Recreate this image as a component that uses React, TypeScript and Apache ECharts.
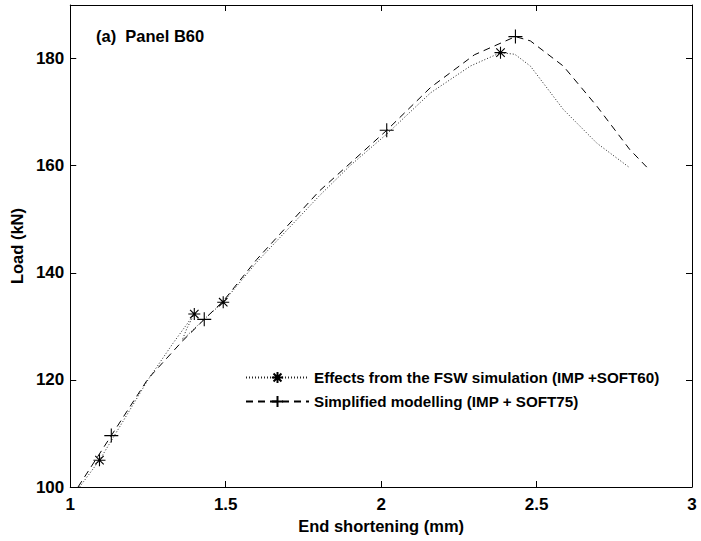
import React, { useEffect, useRef } from "react";
import * as echarts from "echarts";

const seriesNames = [
  "Effects from the FSW simulation (IMP +SOFT60)",
  "Simplified modelling (IMP + SOFT75)",
];

// [end shortening (mm), load (kN)]
const fswCurve: number[][] = [
  [1.03, 100], [1.094, 105.0], [1.17, 112.3], [1.25, 120.0], [1.33, 126.8],
  [1.399, 132.3], [1.375, 129.6], [1.36, 127.4], [1.43, 131.3], [1.492, 134.5],
  [1.6, 142.0], [1.8, 154.3], [1.9, 160.0], [2.018, 165.9], [2.159, 173.6],
  [2.287, 178.6], [2.384, 181.1], [2.43, 180.8], [2.48, 178.6], [2.586, 170.5],
  [2.694, 164.2], [2.8, 159.6],
];
const fswMarkers: number[][] = [
  [1.094, 105.0], [1.399, 132.3], [1.492, 134.5], [2.384, 181.1],
];

const simpCurve: number[][] = [
  [1.025, 100], [1.132, 109.6], [1.25, 120.2], [1.36, 127.2], [1.431, 131.3],
  [1.492, 134.7], [1.6, 142.5], [1.8, 155.2], [2.018, 166.6], [2.159, 174.6],
  [2.3, 180.7], [2.432, 184.1], [2.48, 183.3], [2.586, 178.6], [2.694, 171.1],
  [2.8, 163.0], [2.865, 159.1],
];
const simpMarkers: number[][] = [
  [1.132, 109.6], [1.431, 131.3], [2.018, 166.6], [2.432, 184.1],
];

const xTicks = [1, 1.5, 2, 2.5, 3];
const yTicks = [100, 120, 140, 160, 180];

const FONT = '"Liberation Sans", Arial, Helvetica, sans-serif';
const ASTERISK = "path://M0,-10L0,10M-10,0L10,0M-7.07,-7.07L7.07,7.07M-7.07,7.07L7.07,-7.07";
const PLUS = "path://M0,-10L0,10M-10,0L10,0";

function withMarkers(curve: number[][], markers: number[][]) {
  return curve.map((p) => {
    const isMark = markers.some((m) => m[0] === p[0] && m[1] === p[1]);
    return isMark ? { value: p } : { value: p, symbol: "none" };
  });
}

export default function App() {
  const ref = useRef<HTMLDivElement>(null);
  useEffect(() => {
    if (!ref.current) return;
    const chart = echarts.init(ref.current, undefined, { renderer: "svg" });
    const axisCommon = {
      type: "value" as const,
      axisLine: { show: true, lineStyle: { color: "#000", width: 1 } },
      axisTick: { show: true, inside: true, length: 6, lineStyle: { color: "#000" } },
      splitLine: { show: false },
    };
    chart.setOption({
      animation: false,
      backgroundColor: "#fff",
      textStyle: { fontFamily: FONT },
      grid: { left: 69, right: 9, top: 5, bottom: 54, containLabel: false },
      xAxis: [
        {
          ...axisCommon,
          min: xTicks[0],
          max: xTicks[xTicks.length - 1],
          interval: 0.5,
          position: "bottom",
          name: "End shortening (mm)",
          nameLocation: "middle",
          nameGap: 25,
          nameTextStyle: { fontSize: 16.5, fontWeight: "bold", color: "#000", fontFamily: FONT },
          axisLabel: { fontSize: 17, fontWeight: "bold", color: "#000", margin: 9, fontFamily: FONT },
        },
        {
          ...axisCommon,
          min: xTicks[0],
          max: xTicks[xTicks.length - 1],
          interval: 0.5,
          position: "top",
          axisLabel: { show: false },
        },
      ],
      yAxis: [
        {
          ...axisCommon,
          min: yTicks[0],
          max: 190,
          interval: 20,
          position: "left",
          name: "Load (kN)",
          nameLocation: "middle",
          nameGap: 44,
          nameTextStyle: { fontSize: 16.5, fontWeight: "bold", color: "#000", fontFamily: FONT },
          axisLabel: { fontSize: 17, fontWeight: "bold", color: "#000", margin: 6, showMaxLabel: false, fontFamily: FONT },
        },
        {
          ...axisCommon,
          min: yTicks[0],
          max: 190,
          interval: 20,
          position: "right",
          axisLabel: { show: false },
        },
      ],
      legend: {
        orient: "vertical",
        left: 240,
        top: 365,
        itemWidth: 63,
        itemHeight: 14,
        itemGap: 9,
        textStyle: { fontSize: 15.2, fontWeight: "bold", color: "#000", fontFamily: FONT },
        data: seriesNames,
      },
      graphic: [
        {
          type: "text",
          x: 96,
          y: 36,
          style: {
            text: "(a)  Panel B60",
            fontSize: 16.5,
            fontWeight: "bold",
            fill: "#000",
            fontFamily: FONT,
            verticalAlign: "middle",
          },
        },
      ],
      series: [
        {
          name: seriesNames[0],
          type: "line",
          data: withMarkers(fswCurve, fswMarkers),
          symbol: ASTERISK,
          symbolSize: 12,
          showSymbol: true,
          showAllSymbol: true,
          itemStyle: { color: "#000", borderColor: "#000", borderWidth: 1.1 },
          lineStyle: { color: "#222", width: 1, type: [1, 2] },
          smooth: false,
        },
        {
          name: seriesNames[1],
          type: "line",
          data: withMarkers(simpCurve, simpMarkers),
          symbol: PLUS,
          symbolSize: 14,
          showSymbol: true,
          showAllSymbol: true,
          itemStyle: { color: "#000", borderColor: "#000", borderWidth: 1.1 },
          lineStyle: { color: "#000", width: 1, type: [7, 5] },
          smooth: false,
        },
      ],
    });
    return () => chart.dispose();
  }, []);
  return (
    <div
      ref={ref}
      style={{ position: "fixed", left: 0, top: 0, width: 701, height: 541, background: "#fff" }}
    />
  );
}
